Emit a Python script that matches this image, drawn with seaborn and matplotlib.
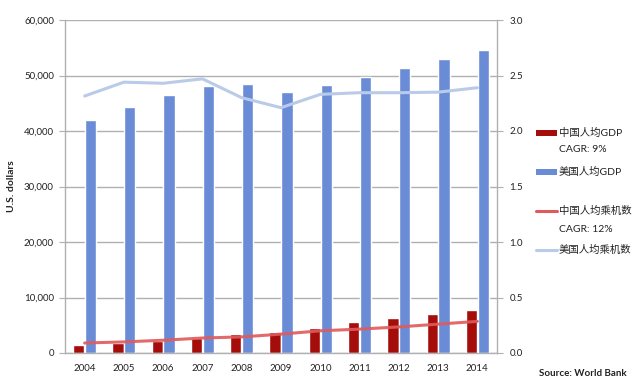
import matplotlib
matplotlib.use("Agg")
import matplotlib.pyplot as plt
from matplotlib.patches import Rectangle
from matplotlib.lines import Line2D
import numpy as np
import pandas as pd
import seaborn as sns

years = ["2004", "2005", "2006", "2007", "2008", "2009", "2010", "2011", "2012", "2013", "2014"]
china_gdp = [1509, 1753, 2099, 2695, 3471, 3838, 4560, 5634, 6337, 7078, 7684]
us_gdp = [41921, 44307, 46437, 48061, 48401, 47002, 48374, 49781, 51433, 53042, 54630]
china_flights = [0.09, 0.10, 0.115, 0.135, 0.145, 0.17, 0.20, 0.215, 0.235, 0.26, 0.285]
us_flights = [2.315, 2.44, 2.43, 2.47, 2.30, 2.21, 2.33, 2.345, 2.345, 2.35, 2.39]

lbl_cn_gdp = "中国人均GDP"
lbl_us_gdp = "美国人均GDP"
lbl_cn_fl = "中国人均乘机数"
lbl_us_fl = "美国人均乘机数"
cagr_gdp = "CAGR: 9%"
cagr_fl = "CAGR: 12%"

sns.set_style("white")
plt.rcParams["font.family"] = ["Lato", "Noto Sans CJK SC", "DejaVu Sans"]
txt_c = "#222222"

c_cn_bar = "#A50D0A"
c_us_bar = "#6A8CD6"
c_cn_line = "#E05A5A"
c_us_line = "#B9CBE8"
grid_c = "#B0B0B0"

W, H = 640, 385
fig = plt.figure(figsize=(6.4, 3.85), dpi=100)
ax = fig.add_axes([65 / W, 1 - 353 / H, (497 - 65) / W, (353 - 20) / H])

df = pd.DataFrame({
    "year": years * 2,
    "value": china_gdp + us_gdp,
    "series": [lbl_cn_gdp] * len(years) + [lbl_us_gdp] * len(years),
})
sns.barplot(data=df, x="year", y="value", hue="series", order=years,
            hue_order=[lbl_cn_gdp, lbl_us_gdp],
            palette=[c_cn_bar, c_us_bar], width=0.6, gap=0.04,
            saturation=1, legend=False, ax=ax, zorder=2)
ax.set_ylim(0, 60000)
ax.set_yticks(np.arange(0, 60001, 10000))
ax.set_yticklabels([f"{v:,}" for v in range(0, 60001, 10000)])
ax.yaxis.grid(True, color=grid_c, linewidth=1)
ax.set_axisbelow(True)
ax.set_xlabel("")
ax.set_ylabel("U.S. dollars", fontsize=7.5, fontweight="bold", labelpad=6, color=txt_c)
ax.tick_params(axis="y", labelsize=7, length=4, color=grid_c, left=True, pad=4, labelcolor=txt_c)
ax.tick_params(axis="x", labelsize=7, length=0, pad=8, labelcolor=txt_c)
for s in ["left", "right", "bottom"]:
    ax.spines[s].set_color(grid_c)
    ax.spines[s].set_linewidth(1)
ax.spines["top"].set_visible(False)

ax2 = ax.twinx()
xpos = np.arange(len(years))
sns.lineplot(x=xpos, y=china_flights, color=c_cn_line, linewidth=2.2, alpha=0.9, ax=ax2)
sns.lineplot(x=xpos, y=us_flights, color=c_us_line, linewidth=2.2, ax=ax2)
ax2.set_ylim(0, 3.0)
ax2.set_yticks(np.arange(0, 3.01, 0.5))
ax2.set_yticklabels([f"{v:.1f}" for v in np.arange(0, 3.01, 0.5)])
ax2.tick_params(axis="y", labelsize=7, length=4, color=grid_c, right=True, pad=5, labelcolor=txt_c)
for s in ["left", "right", "bottom", "top"]:
    ax2.spines[s].set_visible(False)
ax.set_xlim(-0.5, len(years) - 0.5)

# legend (manual)
def px(x, y):
    return x / W, 1 - y / H

hx0, hx1, tx = 536, 557, 559
for y, kind, col, lab in [(133, "bar", c_cn_bar, lbl_cn_gdp), (172, "bar", c_us_bar, lbl_us_gdp),
                          (211, "line", c_cn_line, lbl_cn_fl), (250, "line", c_us_line, lbl_us_fl)]:
    if kind == "bar":
        x0, y0 = px(hx0, y + 3)
        fig.add_artist(Rectangle((x0, y0), (hx1 - hx0) / W, 6 / H, transform=fig.transFigure,
                                 color=col, lw=0))
    else:
        a, b = px(hx0, y)
        c, _ = px(hx1, y)
        fig.add_artist(Line2D([a, c], [b, b], transform=fig.transFigure, color=col, lw=2.2))
    fig.text(*px(tx, y), lab, fontsize=7.5, va="center", ha="left", color=txt_c)
fig.text(*px(tx, 150), cagr_gdp, fontsize=7.5, va="center", ha="left", color=txt_c)
fig.text(*px(tx, 229), cagr_fl, fontsize=7.5, va="center", ha="left", color=txt_c)
fig.text(*px(539, 374), "Source: World Bank", fontsize=7, fontweight="bold", va="center", ha="left", color=txt_c)

fig.savefig("out.png", dpi=100)
